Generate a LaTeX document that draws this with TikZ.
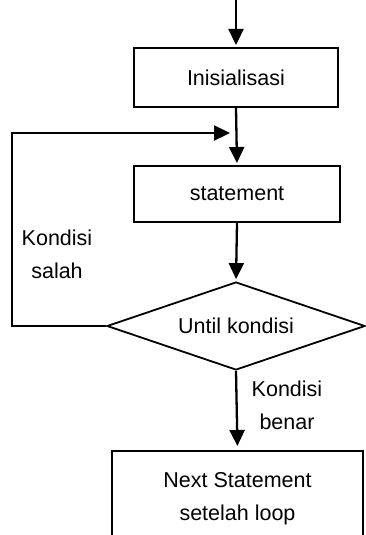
\documentclass[tikz,border=0pt]{standalone}
\usepackage{fontspec}
\setmainfont{Liberation Sans}
\usetikzlibrary{shapes.geometric,arrows.meta}

\tikzset{
	prosesbox/.style={draw,line width=2pt,rectangle,align=center},
	kondisibox/.style={draw,line width=1.8pt,diamond,aspect=2.93,inner sep=0pt,
		minimum width=258pt,minimum height=88pt},
	flowarr/.style={line width=2.3pt,-{Triangle[length=16pt,width=15pt]},shorten >=2pt},
	teks/.style={align=center}
}

\begin{document}
\begin{tikzpicture}[x=1pt,y=-1pt,font=\fontsize{21.5}{33}\selectfont]
			\useasboundingbox (0,0) rectangle (366,535);
			% kotak-kotak
			\node[prosesbox,minimum width=204pt,minimum height=59pt] (init) at (236,77.5) {Inisialisasi};
			\node[prosesbox,minimum width=206pt,minimum height=56pt] (stmt) at (237,194) {statement};
			\node[kondisibox] (until) at (236,326) {Until kondisi};
			\node[prosesbox,minimum width=251pt,minimum height=96pt] (next) at (237.5,499) {Next Statement\\setelah loop};
			% titik bantu
			\coordinate (mulai) at (236,0);
			\coordinate (gabung) at (237,133);
			\coordinate (kiri) at (12,326);
			% panah
			\draw[flowarr] (mulai) -- (init.north);
			\draw[flowarr] (init.south) -- (stmt.north);
			\draw[flowarr] (stmt.south) -- (until.north);
			\draw[flowarr,shorten >=4pt] (until.south) -- (next.north);
			\draw[flowarr,shorten >=7pt] (until.west) -- (kiri) |- (gabung);
			% label
			\node[teks] (salah) at (57,254) {Kondisi\\salah};
			\node[teks] (benar) at (287,405) {Kondisi\\benar};
		\end{tikzpicture}
\end{document}
